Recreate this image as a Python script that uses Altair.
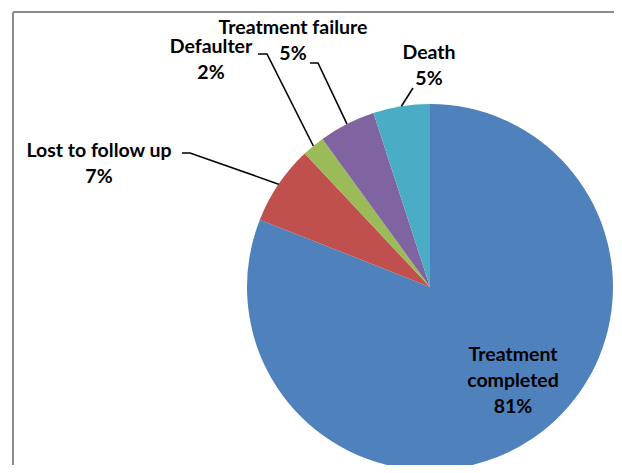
import math
import altair as alt
import pandas as pd

# ---- data ----
categories = ["Treatment completed", "Lost to follow up", "Defaulter", "Treatment failure", "Death"]
percent = [81, 7, 2, 5, 5]
label_names = ["Treatment\ncompleted", "Lost to follow up", "Defaulter", "Treatment failure", "Death"]

# ---- style / layout (pixels inside the plot area) ----
colors = ["#4F81BD", "#C0504D", "#9BBB59", "#8064A2", "#4BACC6"]
W, H = 606, 457
CX, CY, R = 422, 279, 183
label_x = [505, 91, 203, 285, 421]
label_y = [353, 149, 45, 26, 51]
leader_start = [None, (174, 145), (250, 46), (302, 55), (405, 80)]
leader_elbow = [None, (182, 145), (259, 46), (310, 55), None]
FONT = "Lato"

pie_df = pd.DataFrame({"category": categories, "value": percent, "idx": list(range(len(categories)))})

lab_df = pd.DataFrame({
    "text": [f"{n}\n{v}%" for n, v in zip(label_names, percent)],
    "lx": label_x,
    "ly": label_y,
})

# leader lines: from label to the middle of each slice's outer edge
total = sum(percent)
rows = []
cum = 0
for i, (c, v) in enumerate(zip(categories, percent)):
    mid = (cum + v / 2) / total * 2 * math.pi
    cum += v
    if leader_start[i] is None:
        continue
    ex = CX + R * math.sin(mid)
    ey = CY - R * math.cos(mid)
    pts = [leader_start[i]]
    if leader_elbow[i] is not None:
        pts.append(leader_elbow[i])
    pts.append((ex, ey))
    for k, (px, py) in enumerate(pts):
        rows.append({"category": c, "k": k, "px": px, "py": py})
lead_df = pd.DataFrame(rows)

pie = alt.Chart(pie_df).mark_arc(outerRadius=R).encode(
    theta=alt.Theta("value:Q", stack=True),
    order=alt.Order("idx:Q"),
    color=alt.Color("category:N", scale=alt.Scale(domain=categories, range=colors), legend=None),
    x=alt.value(CX),
    y=alt.value(CY),
)

leaders = alt.Chart(lead_df).mark_line(color="black", strokeWidth=1.6).encode(
    x=alt.X("px:Q", scale=None, axis=None),
    y=alt.Y("py:Q", scale=None, axis=None),
    detail="category:N",
    order="k:Q",
)

labels = alt.Chart(lab_df).mark_text(
    font=FONT, fontSize=19.5, fontWeight="bold", color="black",
    align="center", baseline="alphabetic", lineBreak="\n", lineHeight=26,
).encode(
    x=alt.X("lx:Q", scale=None, axis=None),
    y=alt.Y("ly:Q", scale=None, axis=None),
    text="text:N",
)

frame_data = alt.Data(values=[{"a": 1}])
top_rule = alt.Chart(frame_data).mark_rule(color="#8c8c8c", strokeWidth=2).encode(
    x=alt.value(5), x2=alt.value(W), y=alt.value(4)
)
left_rule = alt.Chart(frame_data).mark_rule(color="#8c8c8c", strokeWidth=2).encode(
    x=alt.value(5), y=alt.value(4), y2=alt.value(H)
)

chart = alt.layer(top_rule, left_rule, pie, leaders, labels).properties(
    width=W, height=H, padding=0, autosize=alt.AutoSizeParams(type="none"),
    background="white",
).configure_view(stroke=None)

chart.save("out.html", embed_options={"renderer": "svg", "actions": False})
